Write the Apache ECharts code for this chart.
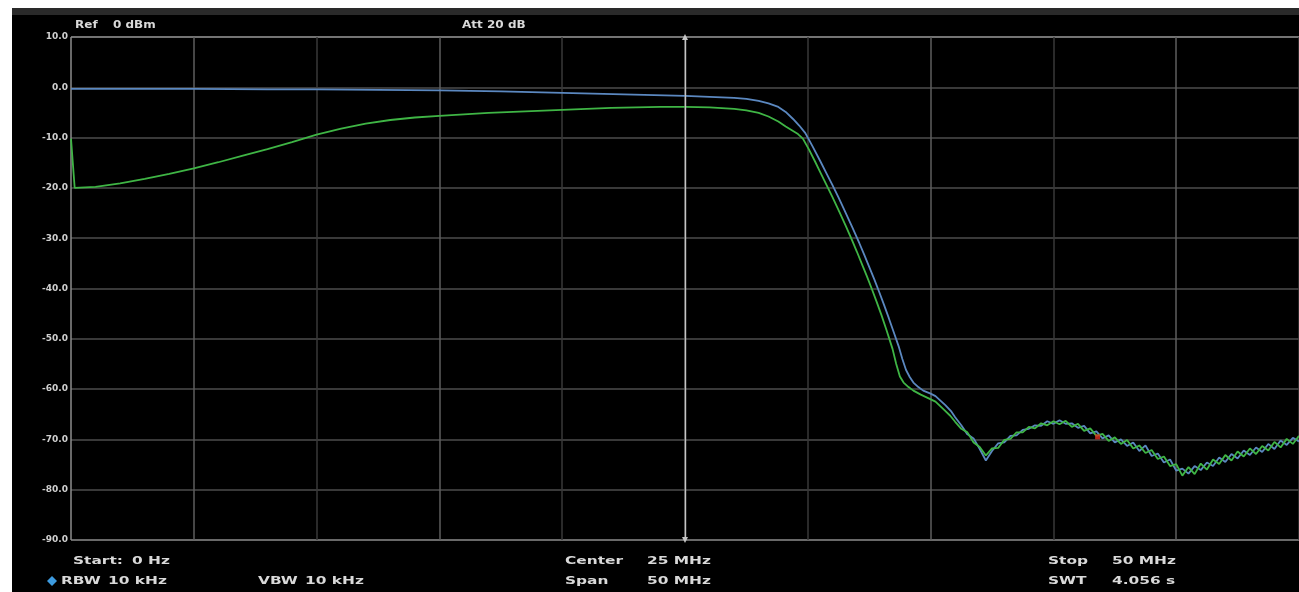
<!DOCTYPE html>
<html>
<head>
<meta charset="utf-8">
<script src="https://cdn.jsdelivr.net/npm/echarts@6/dist/echarts.min.js"></script>
<style>
  html, body { margin: 0; padding: 0; background: #fff; }
  #screen { position: absolute; left: 12px; top: 8px; width: 1287px; height: 584px; background: #000; }
  #band { position: absolute; left: 12px; top: 8px; width: 1287px; height: 7px; background: #2a2a2a; }
  #chart { position: absolute; left: 0; top: 0; width: 1299px; height: 592px; }
</style>
</head>
<body>
<div id="screen"></div>
<div id="band"></div>
<div id="chart"></div>
<script>
// Sweep settings (MHz / dBm)
const startFreq = 0;
const stopFreq = 50;
const refTop = 10;
const refBottom = -90;
const levelTicks = [10, 0, -10, -20, -30, -40, -50, -60, -70, -80, -90];

// Trace 1 (blue): frequency in MHz, level in dBm
const blueFreq = [
  0, 2, 5, 8, 10, 12.5, 15, 17.5, 20, 22.5, 25, 26, 27, 27.5, 28, 28.4,
  28.8, 29.1, 29.4, 29.65, 29.9, 30.2, 30.5, 30.75, 31.0, 31.25, 31.5, 31.8, 32.1, 32.3, 32.5, 32.7,
  32.9, 33.1, 33.3, 33.5, 33.7, 33.85, 34.0, 34.15, 34.3, 34.5, 34.7, 35.0, 35.2, 35.4, 35.6, 35.85,
  36.0, 36.25, 36.5, 36.75, 37.0, 37.25, 37.5, 37.75, 38.0, 38.25, 38.5, 38.75, 39.0, 39.25, 39.5, 39.75,
  40.0, 40.25, 40.5, 40.75, 41.0, 41.25, 41.5, 41.75, 42.0, 42.25, 42.5, 42.75, 43.0, 43.25, 43.5, 43.75,
  44.0, 44.25, 44.5, 44.75, 45.0, 45.25, 45.5, 45.75, 46.0, 46.25, 46.5, 46.75, 47.0, 47.25, 47.5, 47.75,
  48.0, 48.25, 48.5, 48.75, 49.0, 49.25, 49.5, 49.75, 50.0
];
const blueLevel = [
  -0.3, -0.3, -0.3, -0.4, -0.4, -0.5, -0.6, -0.8, -1.1, -1.4, -1.7, -1.9, -2.1, -2.3, -2.7, -3.2,
  -3.9, -4.9, -6.3, -7.6, -9.1, -11.8, -14.6, -17.0, -19.4, -21.9, -24.5, -27.7, -31.0, -33.3, -35.7, -38.1,
  -40.6, -43.2, -45.9, -48.7, -51.5, -54.0, -56.2, -57.6, -58.7, -59.6, -60.3, -60.9, -61.4, -62.3, -63.2, -64.5,
  -65.6, -67.2, -69.0, -69.8, -71.9, -74.2, -72.3, -70.8, -70.6, -69.3, -69.2, -68.1, -67.9, -67.2, -67.3, -66.4,
  -66.9, -66.2, -66.9, -66.8, -67.7, -67.3, -68.8, -68.4, -69.8, -69.2, -70.6, -70.0, -71.3, -70.6, -72.3, -71.2,
  -73.3, -72.8, -74.6, -74.0, -76.2, -75.8, -76.8, -75.3, -76.1, -74.6, -75.3, -73.6, -74.5, -72.9, -73.8, -72.2,
  -73.1, -71.6, -72.5, -70.9, -71.9, -70.2, -71.1, -69.7, -70.4
];

// Trace 2 (green): frequency in MHz, level in dBm
const greenFreq = [
  0, 0.15, 1, 2, 3, 4, 5, 6, 7, 8, 9, 10, 11, 12, 13, 14, 15, 16, 17, 18, 19, 20, 21, 22, 23, 24, 25, 26, 27, 27.5,
  28.0, 28.4, 28.8, 29.1, 29.4, 29.6, 29.8, 30.05, 30.3, 30.5, 30.75, 31.0, 31.3, 31.55, 31.8, 32.0, 32.2, 32.4,
  32.6, 32.8, 33.0, 33.2, 33.45, 33.6, 33.75, 33.9, 34.1, 34.3, 34.6, 34.9, 35.2, 35.5, 35.8,
  36.0, 36.25, 36.5, 36.75, 37.0, 37.25, 37.5, 37.75, 38.0, 38.25, 38.5, 38.75, 39.0, 39.25, 39.5, 39.75,
  40.0, 40.25, 40.5, 40.75, 41.0, 41.25, 41.5, 41.75, 42.0, 42.25, 42.5, 42.75, 43.0, 43.25, 43.5, 43.75,
  44.0, 44.25, 44.5, 44.75, 45.0, 45.25, 45.5, 45.75, 46.0, 46.25, 46.5, 46.75, 47.0, 47.25, 47.5, 47.75,
  48.0, 48.25, 48.5, 48.75, 49.0, 49.25, 49.5, 49.75, 50.0
];
const greenLevel = [
  -10.2, -20.0, -19.8, -19.1, -18.2, -17.2, -16.1, -14.9, -13.6, -12.3, -10.9, -9.4, -8.2, -7.2, -6.5, -6.0, -5.7, -5.4, -5.1, -4.9, -4.7, -4.5, -4.3, -4.1, -4.0, -3.9, -3.9, -4.0, -4.3, -4.6,
  -5.1, -5.8, -6.8, -7.8, -8.7, -9.3, -10.2, -12.4, -14.8, -16.8, -19.3, -21.8, -24.9, -27.6, -30.4, -32.7, -35.1, -37.5,
  -40.0, -42.6, -45.3, -48.2, -52.0, -55.0, -57.5, -58.7, -59.6, -60.3, -61.1, -61.8, -62.5, -63.9, -65.3,
  -66.5, -67.9, -68.6, -70.6, -71.5, -73.2, -71.8, -71.7, -70.1, -69.9, -68.6, -68.6, -67.5, -67.8, -66.8, -67.2,
  -66.4, -67.0, -66.3, -67.5, -66.9, -68.3, -67.8, -69.3, -68.9, -70.3, -69.6, -70.9, -70.1, -71.8, -71.2, -72.7,
  -72.1, -73.9, -73.4, -75.3, -74.9, -77.2, -75.5, -76.9, -74.8, -76.0, -74.0, -74.9, -73.1, -74.2, -72.4, -73.4,
  -71.8, -72.9, -71.3, -72.2, -70.5, -71.6, -69.9, -70.9, -69.3
];

// Marker 1 position
const markerFreq = [41.8];
const markerLevel = [-69.5];

// Annotation texts: [text, left x]
const headerTexts = [["Ref", 75], ["0 dBm", 113], ["Att", 462], ["20 dB", 487]];
const footerRow1 = [["Start:", 73], ["0 Hz", 132], ["Center", 565], ["25 MHz", 647], ["Stop", 1048], ["50 MHz", 1112]];
const footerRow2 = [["RBW", 61], ["10 kHz", 108], ["VBW", 258], ["10 kHz", 305], ["Span", 565], ["50 MHz", 647], ["SWT", 1048], ["4.056 s", 1112]];

const zip = (xs, ys) => xs.map((x, i) => [x, ys[i]]);

function label(t, x, y, size, sx) {
  return {
    type: 'text', x: x, y: y, scaleX: sx, z: 100,
    style: {
      text: t, verticalAlign: 'middle', textVerticalAlign: 'middle',
      fill: '#d9d9d9', font: 'bold ' + size + 'px "DejaVu Sans", sans-serif'
    }
  };
}

const graphics = [];
headerTexts.forEach(([t, x]) => graphics.push(label(t, x, 25, 10, 1.2)));
footerRow1.forEach(([t, x]) => graphics.push(label(t, x, 561, 11, 1.4)));
footerRow2.forEach(([t, x]) => graphics.push(label(t, x, 581, 11, 1.4)));
// trace-1 indicator diamond next to RBW
graphics.push({ type: 'polygon', shape: { points: [[52, 576], [57, 581], [52, 586], [47, 581]] }, style: { fill: '#3d9be0' }, z: 100 });

// grid colours: first entry is the axis edge, the rest alternate / end with the top border
const vColors = ['#8c8c8c', '#5e5e5e', '#383838', '#5e5e5e', '#383838', '#5e5e5e', '#383838', '#5e5e5e', '#383838', '#5e5e5e', '#383838'];
const hColors = ['#8c8c8c', '#4c4c4c', '#4c4c4c', '#4c4c4c', '#4c4c4c', '#4c4c4c', '#4c4c4c', '#4c4c4c', '#4c4c4c', '#4c4c4c', '#9a9a9a'];

const chart = echarts.init(document.getElementById('chart'), null, { renderer: 'canvas' });
chart.setOption({
  animation: false,
  backgroundColor: 'transparent',
  grid: { left: 71, right: -7, top: 37, bottom: 52, containLabel: false },
  xAxis: {
    type: 'value', min: startFreq, max: stopFreq, interval: 5,
    axisLine: { show: false },
    axisTick: { show: false },
    axisLabel: { show: false },
    splitLine: { show: true, lineStyle: { color: vColors, width: 1.5 } }
  },
  yAxis: {
    type: 'value', min: refBottom, max: refTop, interval: 10,
    axisLine: { show: false },
    axisTick: { show: false },
    axisLabel: {
      color: '#d0d0d0', fontSize: 9, fontWeight: 'bold', fontFamily: 'DejaVu Sans', margin: 3,
      formatter: v => levelTicks.includes(v) ? v.toFixed(1) : ''
    },
    splitLine: { show: true, lineStyle: { color: hColors, width: 1.5 } }
  },
  graphic: graphics,
  series: [
    {
      name: 'Trace 1', type: 'line', data: zip(blueFreq, blueLevel), showSymbol: false,
      lineStyle: { color: '#5b88c0', width: 1.8 }, z: 3,
      markLine: {
        silent: true, symbol: ['triangle', 'triangle'], symbolSize: 6,
        label: { show: false },
        lineStyle: { color: '#c4c4c4', width: 1.4, type: 'solid' },
        itemStyle: { color: '#e8e8e8' },
        data: [{ xAxis: 25 }]
      }
    },
    {
      name: 'Trace 2', type: 'line', data: zip(greenFreq, greenLevel), showSymbol: false,
      lineStyle: { color: '#3fb545', width: 1.8 }, z: 4
    },
    {
      name: 'Marker', type: 'scatter', data: zip(markerFreq, markerLevel), symbol: 'rect', symbolSize: 5,
      itemStyle: { color: '#e0301e' }, z: 5
    }
  ]
});
</script>
</body>
</html>
